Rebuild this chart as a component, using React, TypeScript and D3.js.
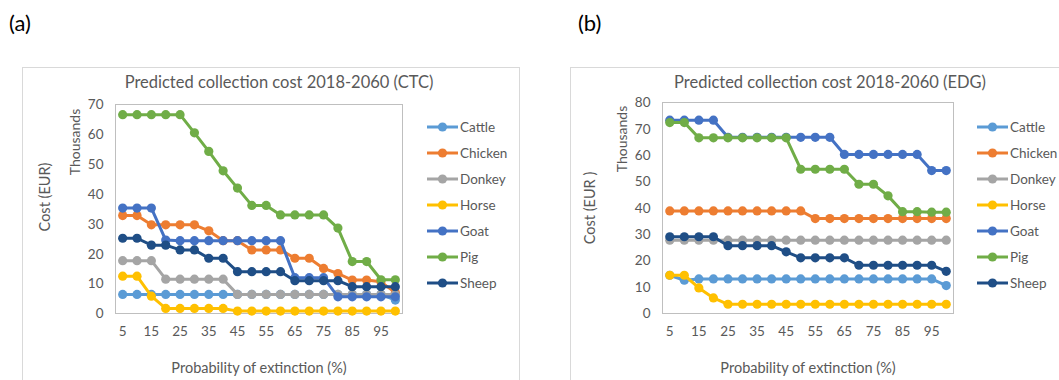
import React from "react";
import * as d3 from "d3";

// Probability of extinction (%) categories
const probabilities = [5, 10, 15, 20, 25, 30, 35, 40, 45, 50, 55, 60, 65, 70, 75, 80, 85, 90, 95, 100];
const xTickLabels = [5, 15, 25, 35, 45, 55, 65, 75, 85, 95];

const speciesNames = ["Cattle", "Chicken", "Donkey", "Horse", "Goat", "Pig", "Sheep"];
const speciesColors = ["#5B9BD5", "#ED7D31", "#A5A5A5", "#FFC000", "#4472C4", "#70AD47", "#1F4E86"];

// CTC collection cost, thousands of EUR
const cattleCTC = [6.4, 6.4, 6.4, 6.4, 6.4, 6.4, 6.4, 6.4, 6.4, 6.4, 6.4, 6.4, 6.4, 6.4, 6.4, 6.4, 6.4, 6.4, 6.4, 4.5];
const chickenCTC = [32.8, 32.8, 29.7, 29.7, 29.7, 29.7, 27.7, 24.4, 24.4, 21.3, 21.3, 21.3, 18.5, 18.5, 15.1, 13.4, 11.2, 11.2, 10.6, 7];
const donkeyCTC = [17.7, 17.7, 17.7, 11.5, 11.5, 11.5, 11.5, 11.5, 6.4, 6.4, 6.4, 6.4, 6.4, 6.4, 6.4, 6.4, 6.4, 6.4, 6.4, 6.4];
const horseCTC = [12.5, 12.5, 5.8, 1.7, 1.7, 1.7, 1.7, 1.7, 0.8, 0.8, 0.8, 0.8, 0.8, 0.8, 0.8, 0.8, 0.8, 0.8, 0.8, 0.8];
const goatCTC = [35.3, 35.3, 35.3, 24.6, 24.4, 24.4, 24.4, 24.4, 24.4, 24.4, 24.4, 24.4, 12, 12, 12, 5.6, 5.6, 5.6, 5.6, 5.6];
const pigCTC = [66.6, 66.6, 66.6, 66.6, 66.6, 60.5, 54.3, 47.8, 42, 36.2, 36.2, 33, 33, 33, 33, 28.6, 17.4, 17.4, 11.3, 11.3];
const sheepCTC = [25.2, 25.2, 22.9, 22.9, 21.3, 21.3, 18.5, 18.5, 14, 14, 14, 14, 11, 11, 11, 11, 9, 9, 9, 9];

// EDG collection cost, thousands of EUR
const cattleEDG = [14.5, 12.6, 13.1, 13.1, 13.1, 13.1, 13.1, 13.1, 13.1, 13.1, 13.1, 13.1, 13.1, 13.1, 13.1, 13.1, 13.1, 13.1, 13.1, 10.6];
const chickenEDG = [38.9, 38.9, 38.9, 38.9, 38.9, 38.9, 38.9, 38.9, 38.9, 38.9, 36, 36, 36, 36, 36, 36, 36, 36, 36, 36];
const donkeyEDG = [27.8, 27.8, 27.8, 27.8, 27.8, 27.8, 27.8, 27.8, 27.8, 27.8, 27.8, 27.8, 27.8, 27.8, 27.8, 27.8, 27.8, 27.8, 27.8, 27.8];
const horseEDG = [14.5, 14.5, 9.7, 5.9, 3.5, 3.5, 3.5, 3.5, 3.5, 3.5, 3.5, 3.5, 3.5, 3.5, 3.5, 3.5, 3.5, 3.5, 3.5, 3.5];
const goatEDG = [73.3, 73.3, 73.3, 73.3, 66.8, 66.8, 66.8, 66.8, 66.8, 66.8, 66.8, 66.8, 60.3, 60.3, 60.3, 60.3, 60.3, 60.3, 54.2, 54.2];
const pigEDG = [72.4, 72.4, 66.6, 66.6, 66.6, 66.6, 66.6, 66.6, 66.6, 54.7, 54.7, 54.7, 54.7, 49, 49, 44.6, 38.6, 38.6, 38.4, 38.4];
const sheepEDG = [29.1, 29.1, 29.1, 29.1, 25.7, 25.7, 25.7, 25.7, 23.4, 21.1, 21.1, 21.1, 21.1, 18.3, 18.3, 18.3, 18.3, 18.3, 18.3, 16];

const ctcSeries = [cattleCTC, chickenCTC, donkeyCTC, horseCTC, goatCTC, pigCTC, sheepCTC];
const edgSeries = [cattleEDG, chickenEDG, donkeyEDG, horseEDG, goatEDG, pigEDG, sheepEDG];

const ctcYTicks = [0, 10, 20, 30, 40, 50, 60, 70];
const edgYTicks = [0, 10, 20, 30, 40, 50, 60, 70, 80];

const FONT = "Lato, 'Open Sans', sans-serif";
const TEXT = "#595959";

type PanelProps = {
  tag: string;
  title: string;
  yLabel: string;
  series: number[][];
  yTicks: number[];
  box: { x: number; y: number; w: number; h: number };
  plot: { left: number; right: number; top: number; bottom: number };
  tagX: number;
  titleX: number;
  costX: number;
  costY: number;
  thousandsX: number;
  thousandsY: number;
  legendX: number;
};

function Panel(p: PanelProps) {
  const x = d3
    .scaleBand<number>()
    .domain(probabilities)
    .range([p.plot.left, p.plot.right])
    .padding(0);
  const cx = (v: number) => (x(v) as number) + x.bandwidth() / 2;
  const y = d3
    .scaleLinear()
    .domain([0, d3.max(p.yTicks) as number])
    .range([p.plot.bottom, p.plot.top]);
  const line = d3
    .line<number>()
    .x((_, i) => cx(probabilities[i]))
    .y((v) => y(v));
  const midX = (p.plot.left + p.plot.right) / 2;
  const legendRow = d3.scalePoint<string>().domain(speciesNames).range([127, 283]);

  return (
    <g>
      <text x={p.tagX} y={31} fontSize={22} fontFamily={FONT} fill="#000">
        {p.tag}
      </text>
      <rect x={p.box.x} y={p.box.y} width={p.box.w} height={p.box.h} fill="#fff" stroke="#D9D9D9" strokeWidth={1} />
      <text x={p.titleX} y={88} fontSize={16.5} fontFamily={FONT} fill={TEXT} textAnchor="middle">
        {p.title}
      </text>
      <rect
        x={p.plot.left}
        y={p.plot.top}
        width={p.plot.right - p.plot.left}
        height={p.plot.bottom - p.plot.top}
        fill="none"
        stroke="#BFBFBF"
        strokeWidth={1}
      />
      {p.yTicks.map((t) => (
        <text key={t} x={p.plot.left - 12} y={y(t)} dy="0.35em" fontSize={13.5} fontFamily={FONT} fill={TEXT} textAnchor="end">
          {t}
        </text>
      ))}
      {xTickLabels.map((t) => (
        <text key={t} x={cx(t)} y={p.plot.bottom + 22} fontSize={13.5} fontFamily={FONT} fill={TEXT} textAnchor="middle">
          {t}
        </text>
      ))}
      <text x={midX} y={373} fontSize={14.5} fontFamily={FONT} fill={TEXT} textAnchor="middle">
        Probability of extinction (%)
      </text>
      <text
        transform={`translate(${p.thousandsX},${p.thousandsY}) rotate(-90)`}
        fontSize={14}
        fontFamily={FONT}
        fill={TEXT}
        textAnchor="middle"
        dy="0.35em"
      >
        Thousands
      </text>
      <text
        transform={`translate(${p.costX},${p.costY}) rotate(-90)`}
        fontSize={14.5}
        fontFamily={FONT}
        fill={TEXT}
        textAnchor="middle"
        dy="0.35em"
      >
        {p.yLabel}
      </text>
      {p.series.map((vals, si) => (
        <g key={speciesNames[si]}>
          <path d={line(vals) as string} fill="none" stroke={speciesColors[si]} strokeWidth={3} strokeLinejoin="round" />
          {vals.map((v, i) => (
            <circle key={i} cx={cx(probabilities[i])} cy={y(v)} r={4.6} fill={speciesColors[si]} />
          ))}
        </g>
      ))}
      {speciesNames.map((name, si) => {
        const ly = legendRow(name) as number;
        return (
          <g key={name}>
            <line x1={p.legendX} x2={p.legendX + 31} y1={ly} y2={ly} stroke={speciesColors[si]} strokeWidth={3} />
            <circle cx={p.legendX + 15.5} cy={ly} r={4.6} fill={speciesColors[si]} />
            <text x={p.legendX + 33} y={ly} dy="0.35em" fontSize={13.5} fontFamily={FONT} fill={TEXT}>
              {name}
            </text>
          </g>
        );
      })}
    </g>
  );
}

export default function App() {
  return (
    <svg width={1059} height={380} style={{ position: "absolute", left: 0, top: 0, background: "#fff" }}>
      <rect width={1059} height={380} fill="#fff" />
      <Panel
        tag="(a)"
        title="Predicted collection cost 2018-2060 (CTC)"
        yLabel="Cost (EUR)"
        series={ctcSeries}
        yTicks={ctcYTicks}
        box={{ x: 22.5, y: 67.5, w: 497, h: 330 }}
        plot={{ left: 115.5, right: 402.5, top: 104.5, bottom: 313.5 }}
        tagX={9}
        titleX={279}
        costX={45}
        costY={197}
        thousandsX={75}
        thousandsY={142}
        legendX={427}
      />
      <Panel
        tag="(b)"
        title="Predicted collection cost 2018-2060 (EDG)"
        yLabel="Cost (EUR )"
        series={edgSeries}
        yTicks={edgYTicks}
        box={{ x: 570.5, y: 67.5, w: 500, h: 330 }}
        plot={{ left: 662.5, right: 953.5, top: 102.5, bottom: 313.5 }}
        tagX={578}
        titleX={830}
        costX={590}
        costY={208}
        thousandsX={622}
        thousandsY={139}
        legendX={977}
      />
    </svg>
  );
}
